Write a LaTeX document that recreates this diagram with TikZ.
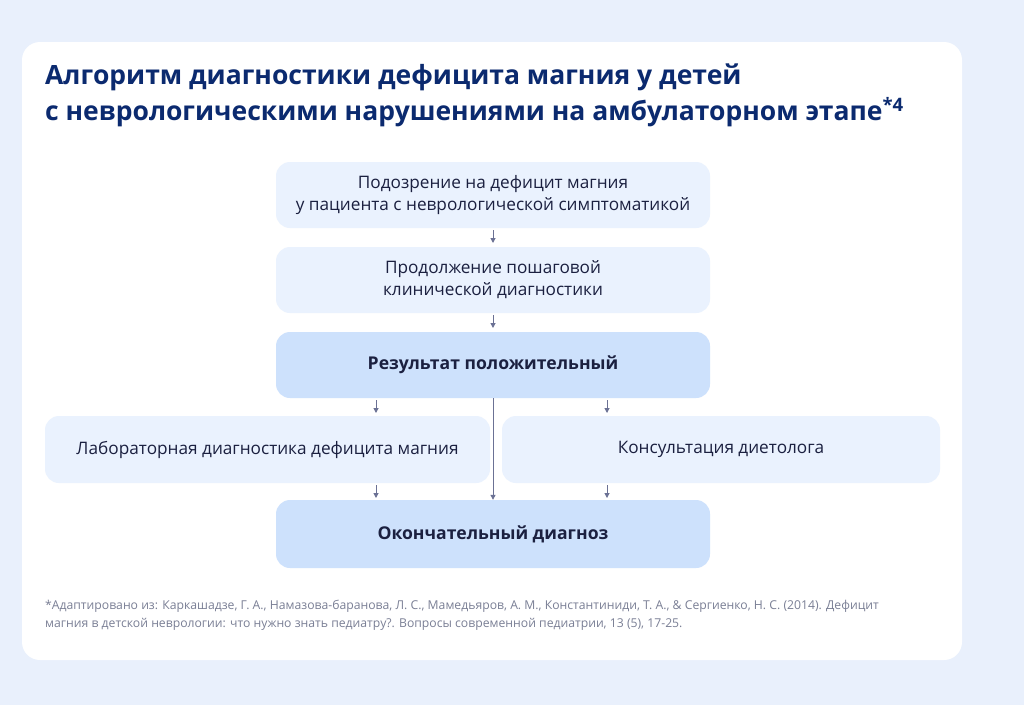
\documentclass[tikz,border=0pt]{standalone}
\usepackage{fontspec}
\setmainfont{Open Sans}
\usetikzlibrary{arrows.meta}
\definecolor{bg}{HTML}{E9F0FC}
\definecolor{lbox}{HTML}{EAF2FE}
\definecolor{dbox}{HTML}{CDE1FC}
\definecolor{navy}{HTML}{0B2A6F}
\definecolor{ink}{HTML}{1B2040}
\definecolor{arr}{HTML}{6B7194}
\definecolor{foot}{HTML}{7A7F95}
\begin{document}
\begin{tikzpicture}[x=1pt,y=-1pt,
  box/.style={rounded corners=14pt,fill=lbox,draw=none,text=ink,align=center,font=\fontsize{17.2}{22}\selectfont,inner sep=0pt},
  dark/.style={box,fill=dbox,font=\fontsize{17.6}{22}\selectfont\bfseries},
  ar/.style={draw=arr,line width=1pt,-{Triangle[length=5pt,width=5pt]}}]
\fill[bg] (0,0) rectangle (1024,705);
\useasboundingbox (0,0) rectangle (1024,705);
\fill[white,rounded corners=18pt] (22,42) rectangle (962,660);
\node[anchor=north west,align=left,text=navy,font=\fontsize{26.5}{36}\selectfont\bfseries,inner sep=0pt] (title) at (45,64)
 {Алгоритм диагностики дефицита магния у детей\\с неврологическими нарушениями на амбулаторном этапе\textsuperscript{*4}};
\node[box,minimum width=434pt,minimum height=66pt] (b1) at (493,195) {Подозрение на дефицит магния\\у пациента с неврологической симптоматикой};
\node[box,minimum width=434pt,minimum height=66pt] (b2) at (493,280) {Продолжение пошаговой\\клинической диагностики};
\node[dark,minimum width=434pt,minimum height=66pt] (b3) at (493,365) {Результат положительный};
\node[box,minimum width=445pt,minimum height=67pt] (bl) at (267.5,449.5) {Лабораторная диагностика дефицита магния};
\node[box,minimum width=438pt,minimum height=67pt] (br) at (721,449.5) {Консультация диетолога};
\node[dark,minimum width=434pt,minimum height=68pt] (b4) at (493,534) {Окончательный диагноз};
\coordinate (a1) at (493,230); \coordinate (a1e) at (493,243);
\draw[ar] (a1) -- (a1e);
\coordinate (a2) at (493,315); \coordinate (a2e) at (493,328);
\draw[ar] (a2) -- (a2e);
\coordinate (c1) at (376,400); \coordinate (c1e) at (376,413);
\draw[ar] (c1) -- (c1e);
\coordinate (c2) at (607,400); \coordinate (c2e) at (607,413);
\draw[ar] (c2) -- (c2e);
\coordinate (d1) at (376,485); \coordinate (d1e) at (376,498);
\draw[ar] (d1) -- (d1e);
\coordinate (d2) at (607,485); \coordinate (d2e) at (607,498);
\draw[ar] (d2) -- (d2e);
\draw[ar] (b3.south) -- (b4.north);
\node[anchor=north west,align=left,text=foot,font=\fontsize{12.2}{18}\selectfont,inner sep=0pt] (fn) at (45,600)
 {*Адаптировано из: Каркашадзе, Г. А., Намазова-баранова, Л. С., Мамедьяров, А. М., Константиниди, Т. А., \& Сергиенко, Н. С. (2014). Дефицит\\магния в детской неврологии: что нужно знать педиатру?. Вопросы современной педиатрии, 13 (5), 17-25.};
\end{tikzpicture}
\end{document}
